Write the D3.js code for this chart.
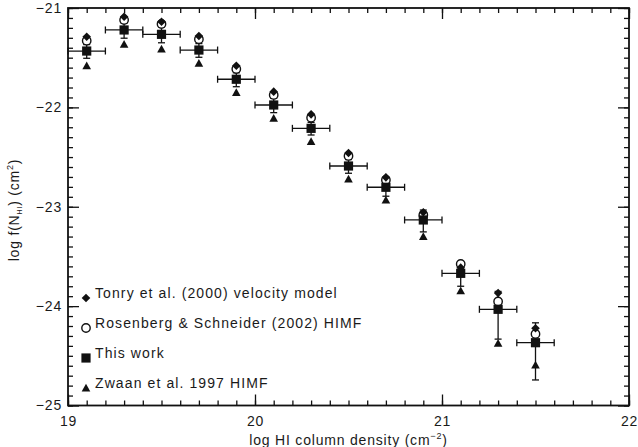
<!DOCTYPE html>
<html>
<head>
<meta charset="utf-8">
<script src="https://cdn.jsdelivr.net/npm/d3@7"></script>
<style>
  html, body { margin: 0; padding: 0; background: #fff; }
  svg { display: block; }
  text { font-family: "Liberation Sans", Arial, sans-serif; fill: #1a1a1a; }
  .tick text { font-size: 14px; letter-spacing: 0.8px; }
</style>
</head>
<body>
<svg id="chart" width="638" height="447"></svg>
<script>
// bins in log N_HI
const logN = [19.1, 19.3, 19.5, 19.7, 19.9, 20.1, 20.3, 20.5, 20.7, 20.9, 21.1, 21.3, 21.5];
const binHalf = 0.1;

// log f(N_HI) for each series
const thisWork = [-21.433, -21.221, -21.265, -21.423, -21.717, -21.976, -22.211, -22.590, -22.804, -23.133, -23.670, -24.032, -24.368];
const errUp    = [0.065, 0.07, 0.075, 0.065, 0.065, 0.068, 0.06, 0.065, 0.08, 0.10, 0.11, 0.18, 0.20];
const errDown  = [0.073, 0.083, 0.085, 0.073, 0.075, 0.077, 0.067, 0.073, 0.09, 0.12, 0.13, 0.30, 0.375];
const tonry    = [-21.289, -21.088, -21.138, -21.282, -21.581, -21.842, -22.070, -22.459, -22.704, -23.056, -23.613, -23.868, -24.223];
const rosenberg = [-21.329, -21.121, -21.161, -21.315, -21.614, -21.875, -22.104, -22.489, -22.731, -23.083, -23.576, -23.953, -24.280];
const zwaan    = [-21.581, -21.365, -21.413, -21.557, -21.852, -22.110, -22.345, -22.722, -22.932, -23.301, -23.845, -24.374, -24.593];

const xTicks = [19, 20, 21, 22];
const yTicks = [-21, -22, -23, -24, -25];

const legendLabels = [
  "Tonry et al. (2000) velocity model",
  "Rosenberg & Schneider (2002) HIMF",
  "This work",
  "Zwaan et al. 1997 HIMF"
];
const legendShapes = ["diamond", "circle", "square", "triangle"];

const svg = d3.select("#chart");
const plotLeft = 68, plotRight = 629, plotTop = 8, plotBottom = 405.5;

const x = d3.scaleLinear().domain([19, 22]).range([plotLeft, plotRight]);
const y = d3.scaleLinear().domain([-25, -21]).range([plotBottom, plotTop]);

const minorX = d3.range(190, 221).map(d => d / 10);
const minorY = d3.range(-250, -209).map(d => d / 10);

const fmt = d => d3.format("d")(d);

// axes, ticks pointing inward
const axes = svg.append("g").attr("class", "axes");

axes.append("g")
  .attr("transform", `translate(0,${plotBottom})`)
  .call(d3.axisBottom(x).tickValues(minorX).tickSize(-5).tickFormat(""));
axes.append("g")
  .attr("transform", `translate(0,${plotBottom})`)
  .call(d3.axisBottom(x).tickValues(xTicks).tickSize(-11).tickPadding(11).tickFormat(fmt));
axes.append("g")
  .attr("transform", `translate(0,${plotTop})`)
  .call(d3.axisTop(x).tickValues(minorX).tickSize(-5).tickFormat(""));
axes.append("g")
  .attr("transform", `translate(0,${plotTop})`)
  .call(d3.axisTop(x).tickValues(xTicks).tickSize(-11).tickFormat(""));

axes.append("g")
  .attr("transform", `translate(${plotLeft},0)`)
  .call(d3.axisLeft(y).tickValues(minorY).tickSize(-5).tickFormat(""));
axes.append("g")
  .attr("transform", `translate(${plotLeft},0)`)
  .call(d3.axisLeft(y).tickValues(yTicks).tickSize(-11).tickPadding(6).tickFormat(fmt));
axes.append("g")
  .attr("transform", `translate(${plotRight},0)`)
  .call(d3.axisRight(y).tickValues(minorY).tickSize(-5).tickFormat(""));
axes.append("g")
  .attr("transform", `translate(${plotRight},0)`)
  .call(d3.axisRight(y).tickValues(yTicks).tickSize(-11).tickFormat(""));

axes.selectAll(".domain").remove();
axes.selectAll(".tick line").attr("stroke", "#111").attr("stroke-width", 1.3);

svg.append("rect")
  .attr("x", plotLeft).attr("y", plotTop)
  .attr("width", plotRight - plotLeft).attr("height", plotBottom - plotTop)
  .attr("fill", "none").attr("stroke", "#111").attr("stroke-width", 1.8);

// axis titles
const xTitle = svg.append("text")
  .attr("x", (plotLeft + plotRight) / 2)
  .attr("y", 445)
  .attr("text-anchor", "middle")
  .style("font-size", "14px")
  .style("letter-spacing", "0.8px");
xTitle.append("tspan").text("log HI column density (cm");
xTitle.append("tspan").attr("dy", -6).style("font-size", "9px").text("−2");
xTitle.append("tspan").attr("dy", 6).text(")");

const yTitle = svg.append("text")
  .attr("transform", "translate(19,210) rotate(-90)")
  .attr("text-anchor", "middle")
  .style("font-size", "14px")
  .style("letter-spacing", "0.8px");
yTitle.append("tspan").text("log f(N");
yTitle.append("tspan").attr("dy", 3).style("font-size", "7px").text("HI");
yTitle.append("tspan").attr("dy", -3).text(") (cm");
yTitle.append("tspan").attr("dy", -6).style("font-size", "9px").text("2");
yTitle.append("tspan").attr("dy", 6).text(")");

// marker shapes
const shapePath = {
  diamond: s => `M0,${-s}L${s},0L0,${s}L${-s},0Z`,
  square: s => `M${-s},${-s}H${s}V${s}H${-s}Z`,
  triangle: s => `M0,${-s}L${s},${s * 0.8}L${-s},${s * 0.8}Z`
};

function drawMarker(g, shape, cx, cy) {
  if (shape === "circle") {
    g.append("circle").attr("cx", cx).attr("cy", cy).attr("r", 4.2)
      .attr("fill", "#fff").attr("stroke", "#111").attr("stroke-width", 1.4);
  } else {
    const size = shape === "square" ? 4.6 : 4.3;
    g.append("path").attr("transform", `translate(${cx},${cy})`)
      .attr("d", shapePath[shape](size)).attr("fill", "#111");
  }
}

const marks = svg.append("g").attr("class", "marks");

// error bars for this work
const errG = marks.append("g").attr("stroke", "#111").attr("stroke-width", 1.3);
logN.forEach((n, i) => {
  const cx = x(n), cy = y(thisWork[i]);
  const x0 = x(n - binHalf), x1 = x(n + binHalf);
  const yUp = y(thisWork[i] + errUp[i]), yDn = y(thisWork[i] - errDown[i]);
  errG.append("line").attr("x1", x0).attr("x2", x1).attr("y1", cy).attr("y2", cy);
  errG.append("line").attr("x1", x0).attr("x2", x0).attr("y1", cy - 3.5).attr("y2", cy + 3.5);
  errG.append("line").attr("x1", x1).attr("x2", x1).attr("y1", cy - 3.5).attr("y2", cy + 3.5);
  errG.append("line").attr("x1", cx).attr("x2", cx).attr("y1", yUp).attr("y2", yDn);
  errG.append("line").attr("x1", cx - 3.5).attr("x2", cx + 3.5).attr("y1", yUp).attr("y2", yUp);
  errG.append("line").attr("x1", cx - 3.5).attr("x2", cx + 3.5).attr("y1", yDn).attr("y2", yDn);
});

logN.forEach((n, i) => drawMarker(marks, "triangle", x(n), y(zwaan[i])));
logN.forEach((n, i) => drawMarker(marks, "circle", x(n), y(rosenberg[i])));
logN.forEach((n, i) => drawMarker(marks, "diamond", x(n), y(tonry[i])));
logN.forEach((n, i) => drawMarker(marks, "square", x(n), y(thisWork[i])));

// legend
const legend = svg.append("g").attr("class", "legend");
legendLabels.forEach((label, i) => {
  const ly = 298 + i * 30;
  const g = legend.append("g");
  drawMarker(g, legendShapes[i], 86, ly);
  legend.append("text")
    .attr("x", 95)
    .attr("y", ly)
    .style("font-size", "14px")
    .style("letter-spacing", "1.1px")
    .text(label);
});
</script>
</body>
</html>
